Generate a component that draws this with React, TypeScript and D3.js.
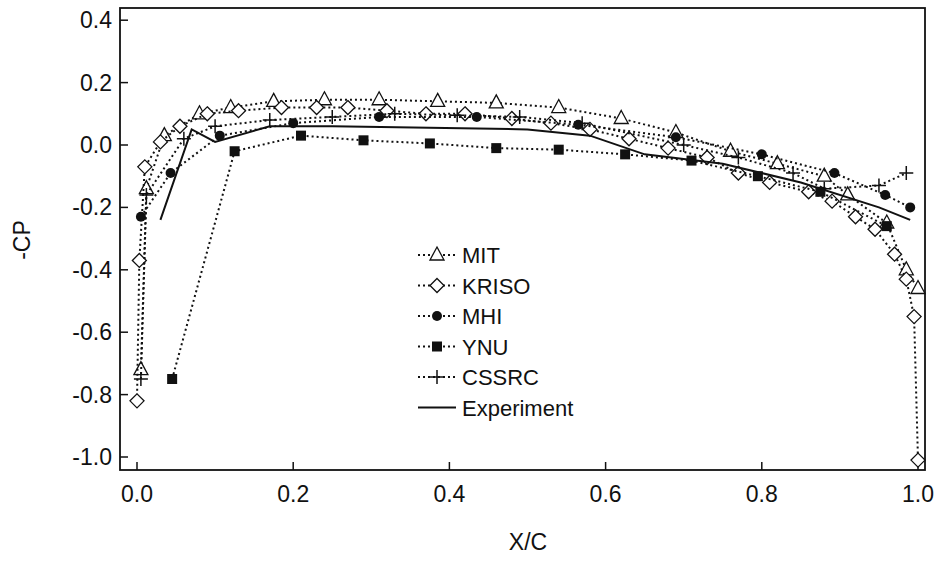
import React from "react";
import * as d3 from "d3";

type P = [number, number];
const mit: P[] = [[0.005,-0.72],[0.012,-0.14],[0.035,0.03],[0.08,0.1],[0.12,0.12],[0.175,0.14],[0.24,0.145],[0.31,0.145],[0.385,0.14],[0.46,0.135],[0.54,0.12],[0.62,0.085],[0.69,0.04],[0.76,-0.02],[0.82,-0.06],[0.88,-0.1],[0.91,-0.16],[0.96,-0.25],[0.985,-0.4],[1.0,-0.46]];
const kriso: P[] = [[0.0,-0.82],[0.003,-0.37],[0.01,-0.07],[0.03,0.01],[0.055,0.06],[0.09,0.1],[0.13,0.11],[0.185,0.12],[0.23,0.12],[0.27,0.12],[0.32,0.11],[0.37,0.1],[0.42,0.1],[0.48,0.085],[0.53,0.07],[0.58,0.05],[0.63,0.02],[0.68,-0.01],[0.73,-0.04],[0.77,-0.09],[0.81,-0.12],[0.86,-0.15],[0.89,-0.18],[0.92,-0.23],[0.945,-0.27],[0.97,-0.35],[0.985,-0.43],[0.995,-0.55],[1.0,-1.01]];
const mhi: P[] = [[0.005,-0.23],[0.043,-0.09],[0.106,0.03],[0.2,0.07],[0.31,0.09],[0.435,0.09],[0.565,0.065],[0.69,0.025],[0.8,-0.03],[0.893,-0.09],[0.958,-0.16],[0.99,-0.2]];
const ynu: P[] = [[0.045,-0.75],[0.125,-0.02],[0.21,0.03],[0.29,0.015],[0.375,0.005],[0.46,-0.01],[0.54,-0.015],[0.625,-0.03],[0.71,-0.05],[0.795,-0.1],[0.875,-0.15],[0.96,-0.26]];
const cssrc: P[] = [[0.005,-0.75],[0.012,-0.16],[0.06,0.02],[0.1,0.06],[0.17,0.08],[0.25,0.09],[0.33,0.1],[0.41,0.095],[0.49,0.09],[0.57,0.07],[0.7,0.0],[0.77,-0.04],[0.84,-0.09],[0.88,-0.14],[0.95,-0.13],[0.985,-0.09]];
const experiment: P[] = [[0.03,-0.24],[0.07,0.05],[0.1,0.01],[0.17,0.06],[0.25,0.06],[0.5,0.05],[0.58,0.03],[0.65,-0.03],[0.75,-0.06],[0.85,-0.12],[0.95,-0.2],[0.99,-0.24]];
const xTicks = [0, 0.2, 0.4, 0.6, 0.8, 1.0];
const yTicks = [0.4, 0.2, 0, -0.2, -0.4, -0.6, -0.8, -1.0];
const legendNames = ["MIT", "KRISO", "MHI", "YNU", "CSSRC", "Experiment"];

const x = d3.scaleLinear().domain([0, 1]).range([137, 918]);
const y = d3.scaleLinear().domain([0, -1]).range([145, 457]);
const line = d3.line<P>().x(d => x(d[0])).y(d => y(d[1]));

function Marker({ kind, cx, cy }: { kind: string; cx: number; cy: number }) {
  const s = "#111";
  if (kind === "MIT") return <path d={`M${cx},${cy-8}L${cx+7},${cy+5}L${cx-7},${cy+5}Z`} fill="white" stroke={s} strokeWidth={1.3} />;
  if (kind === "KRISO") return <path d={`M${cx},${cy-7}L${cx+7},${cy}L${cx},${cy+7}L${cx-7},${cy}Z`} fill="white" stroke={s} strokeWidth={1.3} />;
  if (kind === "MHI") return <circle cx={cx} cy={cy} r={5} fill={s} />;
  if (kind === "YNU") return <rect x={cx-5} y={cy-5} width={10} height={10} fill={s} />;
  if (kind === "CSSRC") return <path d={`M${cx-7},${cy}H${cx+7}M${cx},${cy-7}V${cy+7}`} stroke={s} strokeWidth={1.5} />;
  return null;
}

const series: [string, P[]][] = [["MIT", mit], ["KRISO", kriso], ["MHI", mhi], ["YNU", ynu], ["CSSRC", cssrc]];

export default function App() {
  const font = "Liberation Sans, Arial, sans-serif";
  return (
    <svg width={944} height={563} style={{ position: "absolute", left: 0, top: 0, background: "white" }} fontFamily={font}>
      <rect x={120} y={8} width={805} height={462} fill="none" stroke="#111" strokeWidth={1.8} />
      {xTicks.map(t => (
        <g key={"x" + t}>
          <line x1={x(t)} x2={x(t)} y1={470} y2={462} stroke="#111" strokeWidth={1.5} />
          <text x={x(t)} y={502} fontSize={23} textAnchor="middle" fill="#111">{t.toFixed(1)}</text>
        </g>
      ))}
      {yTicks.map(t => (
        <g key={"y" + t}>
          <line x1={120} x2={128} y1={y(t)} y2={y(t)} stroke="#111" strokeWidth={1.5} />
          <text x={112} y={y(t) + 8} fontSize={23} textAnchor="end" fill="#111">{t.toFixed(1)}</text>
        </g>
      ))}
      <text x={528} y={550} fontSize={23} textAnchor="middle" fill="#111">X/C</text>
      <text transform="translate(30,240) rotate(-90)" fontSize={23} textAnchor="middle" fill="#111">-CP</text>
      {series.map(([n, d]) => (
        <g key={n}>
          <path d={line(d) || ""} fill="none" stroke="#111" strokeWidth={2} strokeDasharray="2,3" />
          {d.map((p, i) => <Marker key={i} kind={n} cx={x(p[0])} cy={y(p[1])} />)}
        </g>
      ))}
      <path d={line(experiment) || ""} fill="none" stroke="#111" strokeWidth={2} />
      {legendNames.map((n, i) => {
        const ly = 255 + i * 30.5;
        return (
          <g key={n}>
            <line x1={418} x2={456} y1={ly} y2={ly} stroke="#111" strokeWidth={2} strokeDasharray={n === "Experiment" ? undefined : "2,3"} />
            <Marker kind={n} cx={437} cy={ly} />
            <text x={462} y={ly + 8} fontSize={22} fill="#111">{n}</text>
          </g>
        );
      })}
    </svg>
  );
}
